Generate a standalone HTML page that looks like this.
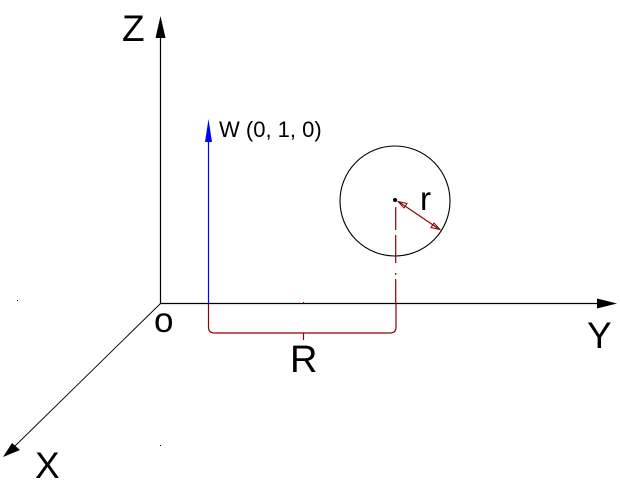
<!DOCTYPE html>
<html><head><meta charset="utf-8"><style>
html,body{margin:0;padding:0;background:#fff;}
svg{display:block;}
text{font-family:"Liberation Sans",Arial,sans-serif;}
</style></head><body>
<svg width="620" height="496" viewBox="0 0 620 496" xmlns="http://www.w3.org/2000/svg">
<rect width="620" height="496" fill="#fff"/>
<!-- Z axis -->
<line x1="160.5" y1="303.5" x2="160.5" y2="34" stroke="#000" stroke-width="1.2"/>
<polygon points="160.5,16 155.5,38 165.5,38" fill="#000"/>
<!-- Y axis -->
<line x1="160" y1="303.5" x2="600" y2="303.5" stroke="#000" stroke-width="1.2"/>
<polygon points="617,303.5 597,298.5 597,308.5" fill="#000"/>
<!-- X axis -->
<line x1="160.5" y1="303.5" x2="14" y2="447" stroke="#000" stroke-width="0.9"/>
<polygon points="3,457 12,443 20,450" fill="#000"/>
<!-- W blue arrow -->
<line x1="208.5" y1="303.5" x2="208.5" y2="138" stroke="#0000ff" stroke-width="1.2"/>
<polygon points="208.5,119 205,142 212,142" fill="#0000ff"/>
<!-- circle -->
<circle cx="395" cy="201" r="55" fill="none" stroke="#000" stroke-width="1.1"/>
<circle cx="395" cy="200" r="2" fill="#000"/>
<!-- dashed center line -->
<g stroke="#8b0000" stroke-width="1.2">
<line x1="395.7" y1="207" x2="395.7" y2="230"/>
<line x1="395.7" y1="235" x2="395.7" y2="263"/>
<line x1="395.7" y1="273" x2="395.7" y2="275"/>
<line x1="395.7" y1="279" x2="395.7" y2="304"/>
</g>
<!-- radius arrow -->
<line x1="399" y1="202" x2="439" y2="229" stroke="#8b0000" stroke-width="1.1"/>
<polygon points="398,201.5 407,203.5 404,208" fill="none" stroke="#8b0000" stroke-width="1"/>
<polygon points="440,229.5 431,227.5 434,223" fill="none" stroke="#8b0000" stroke-width="1"/>
<!-- R bracket -->
<path d="M208.5,304 L208.5,327 Q208.5,333 214.5,333 L390,333 Q396,333 396,327 L396,304" fill="none" stroke="#8b0000" stroke-width="1.2"/>
<line x1="303.5" y1="333" x2="303.5" y2="340" stroke="#8b0000" stroke-width="1.2"/>
<line x1="303.5" y1="302" x2="303.5" y2="304" stroke="#8b0000" stroke-width="1"/>
<!-- stray dots -->
<rect x="17" y="300" width="1" height="1" fill="#000"/>
<rect x="160" y="445" width="1" height="1" fill="#000"/>
<!-- labels -->
<text x="122" y="41" font-size="37" fill="#000">Z</text>
<text x="587" y="348" font-size="37" fill="#000">Y</text>
<text x="35" y="478" font-size="37" fill="#000">X</text>
<text x="290" y="372" font-size="38" fill="#000">R</text>
<text x="154" y="332" font-size="35" fill="#000">o</text>
<text x="420" y="210" font-size="33" fill="#000">r</text>
<text x="219" y="137" font-size="22" fill="#000">W (0, 1, 0)</text>
</svg>
</body></html>
